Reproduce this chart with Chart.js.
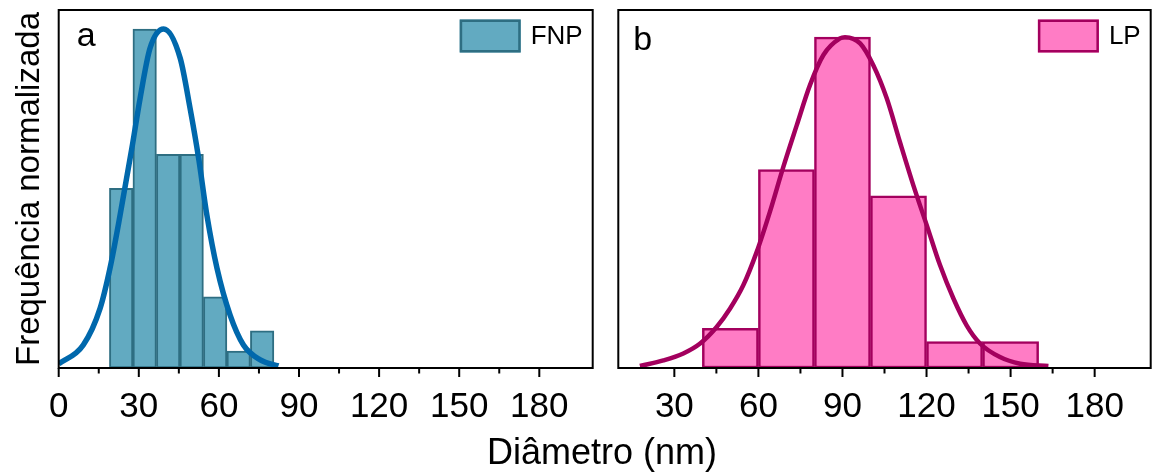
<!DOCTYPE html>
<html>
<head>
<meta charset="utf-8">
<script src="https://cdn.jsdelivr.net/npm/chart.js@4.4.0/dist/chart.umd.min.js"></script>
<style>
  html, body { margin: 0; padding: 0; background: #fff; overflow: hidden; }
  #wrap { position: relative; width: 1152px; height: 475px; background: #fff; }
  .panel { position: absolute; top: 0; height: 475px; }
  #xtitle {
    position: absolute; left: 402px; width: 400px; top: 434px;
    text-align: center; font: 36px/36px "Liberation Sans", Arial, sans-serif; color: #000;
  }
</style>
</head>
<body>
<div id="wrap">
  <div class="panel" style="left:0;width:605px"><canvas id="chartA"></canvas></div>
  <div class="panel" style="left:605px;width:547px"><canvas id="chartB"></canvas></div>
  <div id="xtitle">Diâmetro (nm)</div>
</div>
<script>
// histogram bins (edges, nm) and normalized frequencies
const fnpEdges = [19.0, 27.8, 36.6, 45.4, 54.2, 63.0, 71.8, 80.6];
const fnpFreq = [0.53, 1.00, 0.63, 0.63, 0.21, 0.05, 0.11];
const lpEdges = [40, 60, 80, 100, 120, 140, 160];
const lpFreq = [0.12, 0.60, 1.00, 0.52, 0.08, 0.08];

// fitted distribution curves
const fnpFitX = [0, 9.2, 15.5, 19.2, 23.0, 27.4, 30.5, 34.2, 39.3, 45.5, 49.2, 52.4, 55.5, 59.3, 64.2, 69.2, 75.5, 82.3];
const fnpFitY = [0.012, 0.068, 0.176, 0.294, 0.451, 0.648, 0.796, 0.943, 1.000, 0.914, 0.766, 0.619, 0.451, 0.294, 0.156, 0.068, 0.024, 0.006];
const lpFitX = [17.7, 26.1, 33.2, 39.2, 45.1, 49.9, 54.6, 59.4, 64.1, 68.9, 73.7, 78.4, 83.2, 89.1, 90.9, 96.3, 101.0, 105.8, 110.5, 115.3, 120.1, 124.8, 129.6, 134.3, 139.1, 146.2, 153.4, 163.5];
const lpFitY = [0.006, 0.023, 0.044, 0.074, 0.124, 0.180, 0.250, 0.351, 0.472, 0.608, 0.734, 0.855, 0.946, 0.996, 1.000, 0.981, 0.915, 0.815, 0.683, 0.552, 0.431, 0.311, 0.210, 0.129, 0.074, 0.033, 0.013, 0.006];

const xLabelTicks = [0, 30, 60, 90, 120, 150, 180];

const FONT = '"Liberation Sans", Arial, sans-serif';

function binPoints(edges, freq) {
  return freq.map((y, i) => ({ x: (edges[i] + edges[i + 1]) / 2, y: y }));
}
function curvePoints(xs, ys) {
  return xs.map((x, i) => ({ x: x, y: ys[i] }));
}

// frame around the plot area + outward ticks (long at labelled values)
const frameTicks = {
  id: 'frameTicks',
  afterDraw(chart) {
    const { ctx, chartArea: a } = chart;
    const xs = chart.scales.x;
    ctx.save();
    ctx.strokeStyle = '#000';
    ctx.lineWidth = 2;
    xs.ticks.forEach(t => {
      if (t.value % 15 !== 0) return;
      const px = xs.getPixelForValue(t.value);
      const len = t.value % 30 === 0 ? 9 : 5.5;
      ctx.beginPath();
      ctx.moveTo(px, a.bottom);
      ctx.lineTo(px, a.bottom + len);
      ctx.stroke();
    });
    ctx.strokeRect(a.left, a.top, a.right - a.left, a.bottom - a.top);
    ctx.restore();
  }
};

// panel letter in the upper-left corner
const panelTag = {
  id: 'panelTag',
  afterDraw(chart, args, opts) {
    const { ctx, chartArea: a } = chart;
    ctx.save();
    ctx.font = '34px ' + FONT;
    ctx.fillStyle = '#000';
    ctx.textBaseline = 'alphabetic';
    ctx.fillText(opts.text, a.left + opts.dx, opts.baseline);
    ctx.restore();
  }
};

// legend box for the histogram dataset, top-right inside the plot
const cornerLegend = {
  id: 'cornerLegend',
  afterDraw(chart) {
    const ds = chart.data.datasets.find(d => d.type === 'bar');
    const { ctx, chartArea: a } = chart;
    ctx.save();
    ctx.font = '26px ' + FONT;
    const tw = ctx.measureText(ds.label).width;
    const textX = a.right - 10 - tw;
    const boxW = 61, boxH = 33;
    const boxX = textX - 10 - boxW, boxY = a.top + 9.5;
    ctx.fillStyle = ds.backgroundColor;
    ctx.fillRect(boxX, boxY, boxW, boxH);
    ctx.lineWidth = 2.5;
    ctx.strokeStyle = ds.borderColor;
    ctx.strokeRect(boxX + 1.25, boxY + 1.25, boxW - 2.5, boxH - 2.5);
    ctx.fillStyle = '#000';
    ctx.textBaseline = 'middle';
    ctx.fillText(ds.label, textX, boxY + boxH / 2 + 1);
    ctx.restore();
  }
};

function makeChart(id, cfg) {
  return new Chart(document.getElementById(id), {
    data: {
      datasets: [
        {
          type: 'bar',
          label: cfg.label,
          data: binPoints(cfg.edges, cfg.freq),
          backgroundColor: cfg.fill,
          borderColor: cfg.edge,
          borderWidth: cfg.barLine,
          borderSkipped: false,
          barThickness: 'flex',
          barPercentage: 1,
          categoryPercentage: 1,
          order: 2
        },
        {
          type: 'line',
          label: cfg.label + ' fit',
          data: curvePoints(cfg.fitX, cfg.fitY),
          borderColor: cfg.curve,
          borderWidth: cfg.curveWidth,
          pointRadius: 0,
          cubicInterpolationMode: 'monotone',
          fill: false,
          order: 1
        }
      ]
    },
    options: {
      responsive: true,
      maintainAspectRatio: false,
      animation: false,
      layout: { padding: cfg.padding },
      plugins: {
        legend: { display: false },
        tooltip: { enabled: false },
        panelTag: cfg.tag
      },
      scales: {
        x: {
          type: 'linear',
          min: cfg.xMin,
          max: 200,
          offset: false,
          grid: { display: false, drawTicks: false },
          border: { display: false },
          ticks: {
            stepSize: 15,
            autoSkip: false,
            maxRotation: 0,
            padding: 18,
            color: '#000',
            font: { family: FONT, size: 35, lineHeight: 1.2 },
            callback: v => xLabelTicks.includes(v) ? String(v) : ''
          },
          afterFit: s => {
            s.height = 107;
            s.paddingLeft = 0;
            s.paddingRight = 0;
          }
        },
        y: {
          display: cfg.showTitle,
          min: 0,
          max: cfg.yMax,
          grid: { display: false, drawTicks: false },
          border: { display: false },
          ticks: { display: false },
          title: {
            display: cfg.showTitle,
            text: 'Frequência normalizada',
            color: '#000',
            font: { family: FONT, size: 33, lineHeight: 1 },
            padding: { top: 13, bottom: 0 }
          },
          afterFit: s => { s.width = cfg.showTitle ? 58.7 : 0; }
        }
      }
    },
    plugins: [frameTicks, panelTag, cornerLegend]
  });
}

makeChart('chartA', {
  label: 'FNP',
  edges: fnpEdges, freq: fnpFreq, fitX: fnpFitX, fitY: fnpFitY,
  fill: '#62AAC1', edge: '#2E6E82', barLine: 2, curve: '#0068AC', curveWidth: 5.5,
  xMin: 0, yMax: 1.056, showTitle: true,
  padding: { top: 10, right: 12.3, left: 0, bottom: 0 },
  tag: { text: 'a', dx: 18, baseline: 46 }
});

makeChart('chartB', {
  label: 'LP',
  edges: lpEdges, freq: lpFreq, fitX: lpFitX, fitY: lpFitY,
  fill: '#FF7CC5', edge: '#A3005E', barLine: 2.5, curve: '#A3005E', curveWidth: 4.5,
  xMin: 10, yMax: 1.082, showTitle: false,
  padding: { top: 10, right: 1.3, left: 13.3, bottom: 0 },
  tag: { text: 'b', dx: 15, baseline: 50 }
});
</script>
</body>
</html>
